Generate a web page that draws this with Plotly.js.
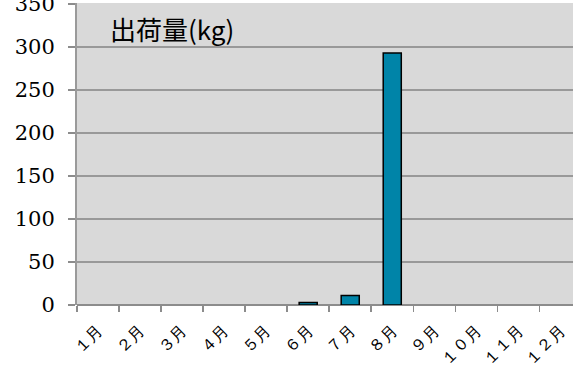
<!DOCTYPE html>
<html>
<head>
<meta charset="utf-8">
<script src="https://cdn.plot.ly/plotly-3.0.1.min.js"></script>
<style>html,body{margin:0;padding:0;background:#fff;}#chart{width:573px;height:382px;}</style>
</head>
<body>
<div id="chart"></div>
<script>
const months = ["１月","２月","３月","４月","５月","６月","７月","８月","９月","１０月","１１月","１２月"];
const shipments = [0, 0, 0, 0, 0, 3, 11, 293, 0, 0, 0, 0];
const yTicks = [0, 50, 100, 150, 200, 250, 300, 350];
const chartTitle = "出荷量(kg)";

const serif = "'DejaVu Serif', 'Liberation Serif', 'Times New Roman', serif";

Plotly.newPlot("chart", [{
  type: "bar",
  x: months,
  y: shipments,
  width: 0.43,
  marker: {color: "#0084a8", line: {color: "#000000", width: shipments.map(v => v > 0 ? 1.5 : 0)}},
  hoverinfo: "none"
}], {
  width: 573, height: 382,
  margin: {l: 77, r: 0, t: 3, b: 76.5, pad: 0},
  paper_bgcolor: "#ffffff",
  plot_bgcolor: "#d9d9d9",
  showlegend: false,
  xaxis: {
    type: "category",
    range: [-0.5, 11.3],
    tickson: "boundaries",
    ticks: "outside", ticklen: 6, tickwidth: 1.5, tickcolor: "#8c8c8c",
    showgrid: false,
    showline: false,
    zeroline: false,
    tickangle: -45,
    ticklabelstandoff: 12,
    tickfont: {family: serif, size: 16, color: "#000"}
  },
  yaxis: {
    range: [0, 351],
    tickvals: yTicks,
    ticks: "outside", ticklen: 7, tickwidth: 1.5, tickcolor: "#8c8c8c",
    showgrid: true, gridcolor: "#999999", gridwidth: 1.5,
    showline: true, linecolor: "#9a9a9a", linewidth: 2,
    zeroline: true, zerolinecolor: "#8c8c8c", zerolinewidth: 1.5,
    tickfont: {family: serif, size: 21, color: "#000"},
    ticklabelstandoff: 9,
    ticklabeloverflow: "allow"
  },
  annotations: [{
    text: chartTitle,
    xref: "paper", yref: "paper",
    x: 0.062, y: 0.914,
    xanchor: "left", yanchor: "middle",
    showarrow: false,
    font: {family: "Noto Sans CJK JP, Noto Sans, sans-serif", size: 26, color: "#000"}
  }]
}, {staticPlot: true, displayModeBar: false});
</script>
</body>
</html>
